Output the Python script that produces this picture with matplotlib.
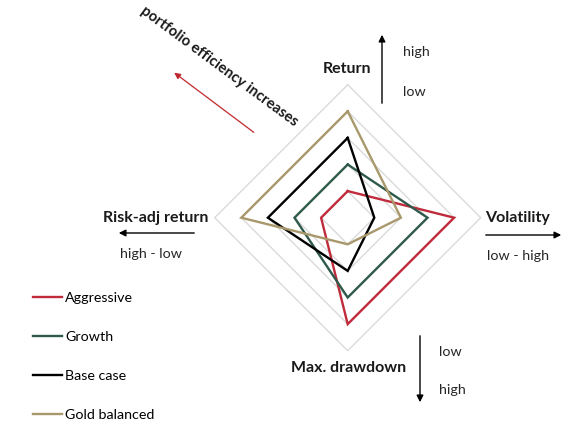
import numpy as np
import matplotlib.pyplot as plt
from matplotlib.patches import FancyArrowPatch

W, H = 574, 428

axes_labels = ["Return", "Volatility", "Max. drawdown", "Risk-adj return"]
series_names = ["Aggressive", "Growth", "Base case", "Gold balanced"]
aggressive = [1, 4, 4, 1]
growth = [2, 3, 3, 2]
base_case = [3, 1, 2, 3]
gold_balanced = [4, 2, 1, 4]
grid_levels = [1, 2, 3, 4, 5]

colors = ["#bf2b3a", "#2f5a4a", "#000000", "#a8986c"]

plt.rcParams['font.family'] = ['Lato', 'DejaVu Sans']


def px(x, y):
    '''convert pixel position (from top-left) to figure fraction'''
    return x / W, 1 - y / H


def to_xy(values):
    # axes go clockwise from top: Return, Volatility, Max. drawdown, Risk-adj
    angles = np.array([0, 0.5, 1.0, 1.5]) * np.pi
    v = np.array(values, dtype=float)
    x = v * np.sin(angles)
    y = v * np.cos(angles)
    return np.append(x, x[0]), np.append(y, y[0])


def arrow(p0, p1, color='black', lw=1.0, size=10):
    fig.add_artist(FancyArrowPatch(px(*p0), px(*p1), transform=fig.transFigure,
                                   arrowstyle='-|>', color=color, lw=lw,
                                   mutation_scale=size))


fig = plt.figure(figsize=(W / 100, H / 100), dpi=100)

cx, cy, unit = 347.7, 217.7, 26.6
half = 5.5 * unit
ax = fig.add_axes([(cx - half) / W, (H - cy - half) / H, 2 * half / W, 2 * half / H])
ax.set_xlim(-5.5, 5.5)
ax.set_ylim(-5.5, 5.5)
ax.axis('off')

for g in grid_levels:
    gx, gy = to_xy([g] * 4)
    ax.plot(gx, gy, color="#dadada", lw=1.0, zorder=1)

lines = []
for name, vals, c in zip(series_names,
                         [aggressive, growth, base_case, gold_balanced], colors):
    sx, sy = to_xy(vals)
    ln, = ax.plot(sx, sy, color=c, lw=1.7, label=name, zorder=3,
                  solid_joinstyle='miter')
    lines.append(ln)

bold = dict(fontsize=11.5, fontweight='bold', color='#1a1a1a')
norm = dict(fontsize=10.3, color='#262626')

# axis titles
fig.text(*px(347, 69), axes_labels[0], ha='center', va='center', **bold)
fig.text(*px(518, 218), axes_labels[1], ha='center', va='center', **bold)
fig.text(*px(406, 368), axes_labels[2], ha='right', va='center', **bold)
fig.text(*px(156, 218), axes_labels[3], ha='center', va='center', **bold)

# direction arrows
arrow((382, 106), (382, 32))
arrow((483, 235), (564, 235))
arrow((197, 233), (116, 233))
arrow((420, 333), (420, 405))

fig.text(*px(403, 52), "high", ha='left', va='center', **norm)
fig.text(*px(403, 92), "low", ha='left', va='center', **norm)
fig.text(*px(518, 256), "low - high", ha='center', va='center', **norm)
fig.text(*px(151, 254), "high - low", ha='center', va='center', **norm)
fig.text(*px(439, 352), "low", ha='left', va='center', **norm)
fig.text(*px(439, 390), "high", ha='left', va='center', **norm)

# efficiency note
arrow((256, 134), (172, 71), color='#c0272d', lw=0.9, size=9)
fig.text(*px(219, 66), "portfolio efficiency increases", ha='center',
         va='center', rotation=-36.5, rotation_mode='anchor',
         fontsize=10.7, fontweight='bold', color='#1a1a1a')

fig.legend(handles=lines, loc='upper left', bbox_to_anchor=px(33, 292),
           frameon=False, fontsize=10.3, handlelength=2.0, handletextpad=0.25,
           labelspacing=1.88, borderaxespad=0, borderpad=0)

fig.savefig("out.png", dpi=100, facecolor='white')
